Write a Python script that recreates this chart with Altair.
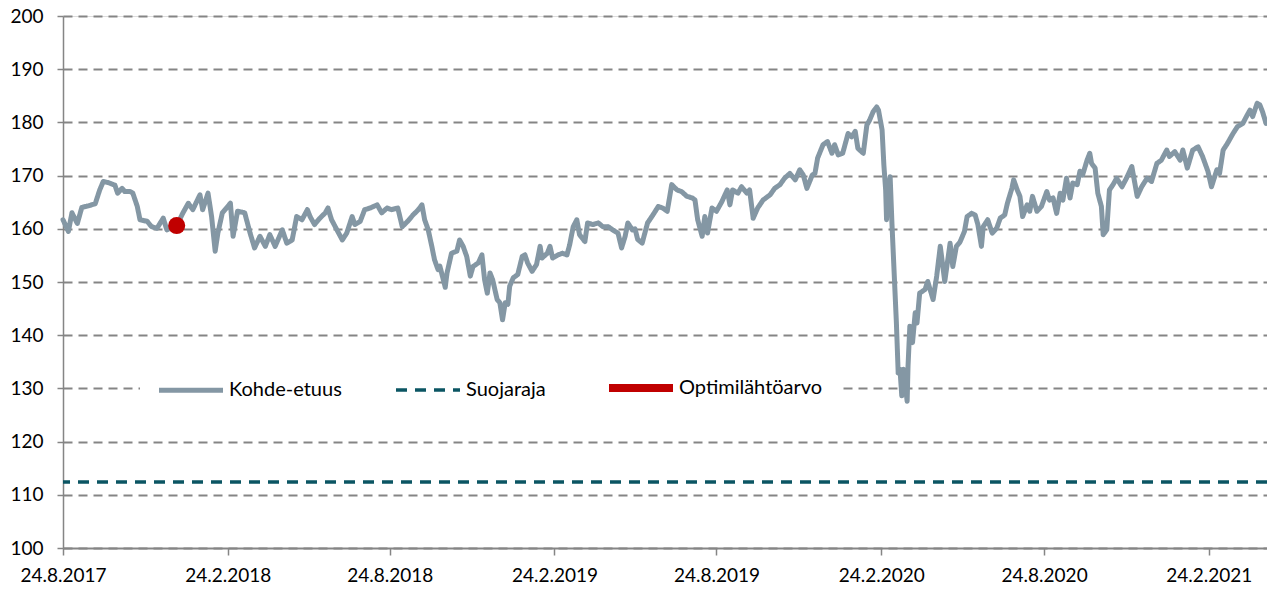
import altair as alt
import pandas as pd

start_date = "2017-08-24"

# days after 24.8.2017, and the underlying's value on that day
day_offsets = [
    0, 6, 10, 16, 21, 28, 36, 41, 45, 52,
    58, 61, 66, 69, 75, 78, 83, 86, 94, 99,
    105, 112, 116, 122, 127, 134, 140, 145, 153, 156,
    162, 166, 170, 173, 178, 181, 187, 190, 195, 203,
    209, 214, 220, 226, 231, 237, 245, 250, 256, 261,
    267, 273, 276, 281, 287, 293, 296, 300, 306, 312,
    317, 323, 326, 332, 337, 343, 351, 356, 362, 367,
    374, 379, 385, 391, 397, 401, 404, 408, 412, 415,
    419, 421, 424, 427, 429, 434, 440, 443, 447, 451,
    455, 458, 464, 468, 471, 474, 477, 480, 485, 488,
    491, 494, 497, 499, 503, 508, 513, 516, 519, 524,
    529, 533, 535, 541, 544, 547, 553, 558, 563, 566,
    570, 574, 577, 583, 586, 592, 598, 603, 609, 614,
    620, 624, 628, 631, 636, 639, 642, 647, 650, 653,
    659, 665, 670, 675, 680, 686, 691, 697, 703, 706,
    709, 714, 717, 720, 725, 730, 736, 742, 745, 748,
    754, 758, 764, 767, 771, 776, 782, 790, 795, 801,
    806, 812, 818, 823, 827, 831, 837, 840, 843, 849,
    854, 859, 862, 866, 871, 877, 881, 885, 888, 894,
    898, 901, 905, 909, 911, 915, 917, 919, 920, 921,
    924, 926, 929, 931, 933, 935, 937, 939, 943, 944,
    946, 949, 952, 954, 957, 963, 966, 972, 976, 980,
    985, 991, 994, 998, 1002, 1007, 1010, 1015, 1019, 1022,
    1026, 1028, 1033, 1038, 1043, 1047, 1052, 1055, 1060, 1062,
    1066, 1069, 1072, 1077, 1080, 1083, 1088, 1093, 1099, 1102,
    1106, 1110, 1114, 1117, 1121, 1125, 1128, 1133, 1136, 1139,
    1144, 1147, 1149, 1153, 1156, 1160, 1162, 1166, 1169, 1173,
    1177, 1183, 1188, 1194, 1200, 1205, 1211, 1216, 1222, 1227,
    1233, 1236, 1242, 1248, 1251, 1256, 1262, 1268, 1273, 1279,
    1283, 1289, 1292, 1296, 1301, 1307, 1312, 1318, 1322, 1326,
    1329, 1334, 1337, 1340, 1344,
]
values = [
    161.7, 159.5, 163, 161, 164, 164.3, 164.7, 167.3, 168.9, 168.6,
    168.2, 166.7, 167.6, 167, 167, 166.7, 164.2, 161.7, 161.4, 160.4,
    160.1, 162, 159.8, 160.3, 160.6, 163, 164.8, 163.6, 166.4, 163.6,
    166.7, 162.3, 155.8, 159.2, 163, 163.6, 164.8, 158.6, 163.3, 163,
    159.2, 156.4, 158.6, 156.7, 158.9, 156.7, 159.8, 157.3, 157.9, 162.3,
    161.7, 163.6, 162.3, 160.8, 162, 163, 163.9, 161.7, 159.8, 157.9,
    159.2, 162.3, 160.8, 161.4, 163.6, 163.9, 164.5, 163, 163.9, 163.6,
    163.9, 160.4, 161.4, 162.6, 163.6, 164.5, 161.7, 159.8, 156.7, 154.2,
    152.3, 153, 151, 149, 151.7, 155.4, 155.8, 157.9, 156.7, 154.8,
    151.1, 152.9, 153.6, 155.1, 150.4, 147.9, 151.7, 150.4, 146.7, 146.1,
    142.9, 146.1, 145.8, 149.2, 150.8, 151.4, 154.8, 155.1, 153.6, 152,
    153.3, 156.7, 154.5, 155.4, 156.7, 154.5, 155.1, 155.4, 155.1, 157,
    160.4, 161.7, 158.9, 157.6, 161.1, 160.8, 161.1, 160.4, 160.4, 159.8,
    159.2, 156.4, 158.6, 161.1, 159.8, 160, 158, 157.3, 159.2, 161.1,
    162.6, 164.2, 163.9, 163.3, 168.3, 167.3, 167, 166.1, 165.8, 165.4,
    161.7, 158.6, 162.3, 159.2, 163.9, 163.3, 165.1, 167.3, 164.5, 167.3,
    166.7, 167.9, 166.7, 167.3, 162, 163.9, 165.4, 166.4, 167.6, 168.3,
    169.5, 170.4, 169.2, 171.1, 170.1, 167.6, 170.1, 170.4, 173.3, 175.8,
    176.4, 174.2, 175.8, 173.9, 174.2, 177.9, 177.3, 178.3, 175.1, 174.2,
    179.5, 180.4, 182, 182.9, 182.3, 178.6, 172, 167.3, 161.7, 165.4,
    169.8, 161.1, 149.8, 142.3, 132.9, 133.6, 128.6, 133.6, 127.6, 134.2,
    141.7, 138.6, 144.2, 142.3, 147.9, 148.6, 150.1, 146.7, 151.1, 156.7,
    150.1, 157.3, 152.9, 156.7, 157.5, 159.5, 162.3, 162.9, 162.6, 160.8,
    156.7, 160.4, 161.7, 159.2, 160.1, 162, 162.6, 164.8, 167.6, 169.2,
    167.3, 166.1, 162.3, 164.5, 163.3, 166.1, 163.3, 164.2, 167, 165.4,
    165.8, 162.9, 166.7, 165.4, 169.5, 165.8, 168.6, 168.3, 170.8, 170.1,
    172.9, 174.2, 172.3, 171.4, 166.7, 164.2, 158.9, 159.8, 167.3, 168.3,
    169.5, 167.9, 169.5, 171.7, 166.1, 167.9, 169.5, 168.9, 172.3, 172.9,
    174.8, 173.6, 174.5, 172.9, 174.8, 171.4, 174.8, 175.4, 173.6, 170.8,
    167.9, 171.1, 170.4, 174.8, 176.1, 177.9, 179.2, 179.8, 181.1, 182.3,
    181.1, 183.6, 183.3, 182, 179.8,
]

series_names = ["Kohde-etuus", "Suojaraja", "Optimilähtöarvo"]
series_colors = ["#8497A4", "#0B5563", "#C00000"]
series_dashes = [[1, 0], [11, 8], [1, 0]]
series_widths = [5, 3.5, 8]

barrier_level = 112.42
optimum_date = "2017-12-29"
optimum_value = 160.6

tick_dates = [(2017, 8, 24), (2018, 2, 24), (2018, 8, 24), (2019, 2, 24),
              (2019, 8, 24), (2020, 2, 24), (2020, 8, 24), (2021, 2, 24)]
x_end = (2021, 4, 30)
y_ticks = [100, 110, 120, 130, 140, 150, 160, 170, 180, 190, 200]

FONT = "Lato"
GRID = "#858585"

dates = pd.Timestamp(start_date) + pd.to_timedelta(day_offsets, unit="D")
df_line = pd.DataFrame({"date": dates, "value": values, "series": series_names[0]})
df_rule = pd.DataFrame({"value": [barrier_level], "series": [series_names[1]]})
df_pt = pd.DataFrame({"date": [pd.Timestamp(optimum_date)], "value": [optimum_value]})


def dt(t):
    return alt.DateTime(year=t[0], month=t[1], date=t[2])


legend = alt.Legend(
    title=None, orient="none", legendX=77, legendY=321, direction="horizontal",
    columns=3, symbolType="stroke", symbolSize=4096, labelFont=FONT,
    labelFontSize=20, labelColor="#000000", labelOffset=2, columnPadding=47,
    padding=15, fillColor="white", strokeColor="white",
)
color_enc = alt.Color("series:N", scale=alt.Scale(domain=series_names, range=series_colors), legend=legend)
dash_enc = alt.StrokeDash("series:N", scale=alt.Scale(domain=series_names, range=series_dashes), legend=legend)
width_enc = alt.StrokeWidth("series:N", scale=alt.Scale(type="ordinal", domain=series_names, range=series_widths), legend=legend)

x_enc = alt.X(
    "date:T",
    scale=alt.Scale(domain=[dt(tick_dates[0]), dt(x_end)]),
    axis=alt.Axis(
        values=[dt(t) for t in tick_dates], format="%-d.%-m.%Y", title=None,
        grid=False, labelFont=FONT, labelFontSize=19, labelColor="#000000",
        labelPadding=11, tickSize=7, tickColor=GRID, tickWidth=1.5,
        domainColor=GRID, domainWidth=2, labelOverlap=False,
        labelBound=False, labelFlush=False,
    ),
)
y_enc = alt.Y(
    "value:Q",
    scale=alt.Scale(domain=[100, 200], nice=False, zero=False),
    axis=alt.Axis(
        values=y_ticks, title=None, grid=True, gridColor=GRID,
        gridDash=[9, 6], gridWidth=1.8, labelFont=FONT, labelFontSize=19,
        labelColor="#000000", labelPadding=14, tickSize=6, tickColor=GRID,
        tickWidth=1.5, domainColor=GRID, domainWidth=1.5,
    ),
)

line = alt.Chart(df_line).mark_line(strokeJoin="round", strokeCap="round").encode(
    x=x_enc, y=y_enc, color=color_enc, strokeDash=dash_enc, strokeWidth=width_enc
)
rule = alt.Chart(df_rule).mark_rule().encode(
    y="value:Q", color=color_enc, strokeDash=dash_enc, strokeWidth=width_enc
)
point = alt.Chart(df_pt).mark_circle(size=290, opacity=1, color="#C00000").encode(
    x="date:T", y="value:Q"
)

chart = alt.layer(rule, line, point).properties(
    width=1204, height=532,
    padding={"left": 63, "top": 16, "right": 0, "bottom": 43},
    autosize=alt.AutoSizeParams(type="none"),
).configure_view(stroke=None).configure(background="white")

chart.save("out.html", embed_options={"renderer": "svg", "actions": False})
